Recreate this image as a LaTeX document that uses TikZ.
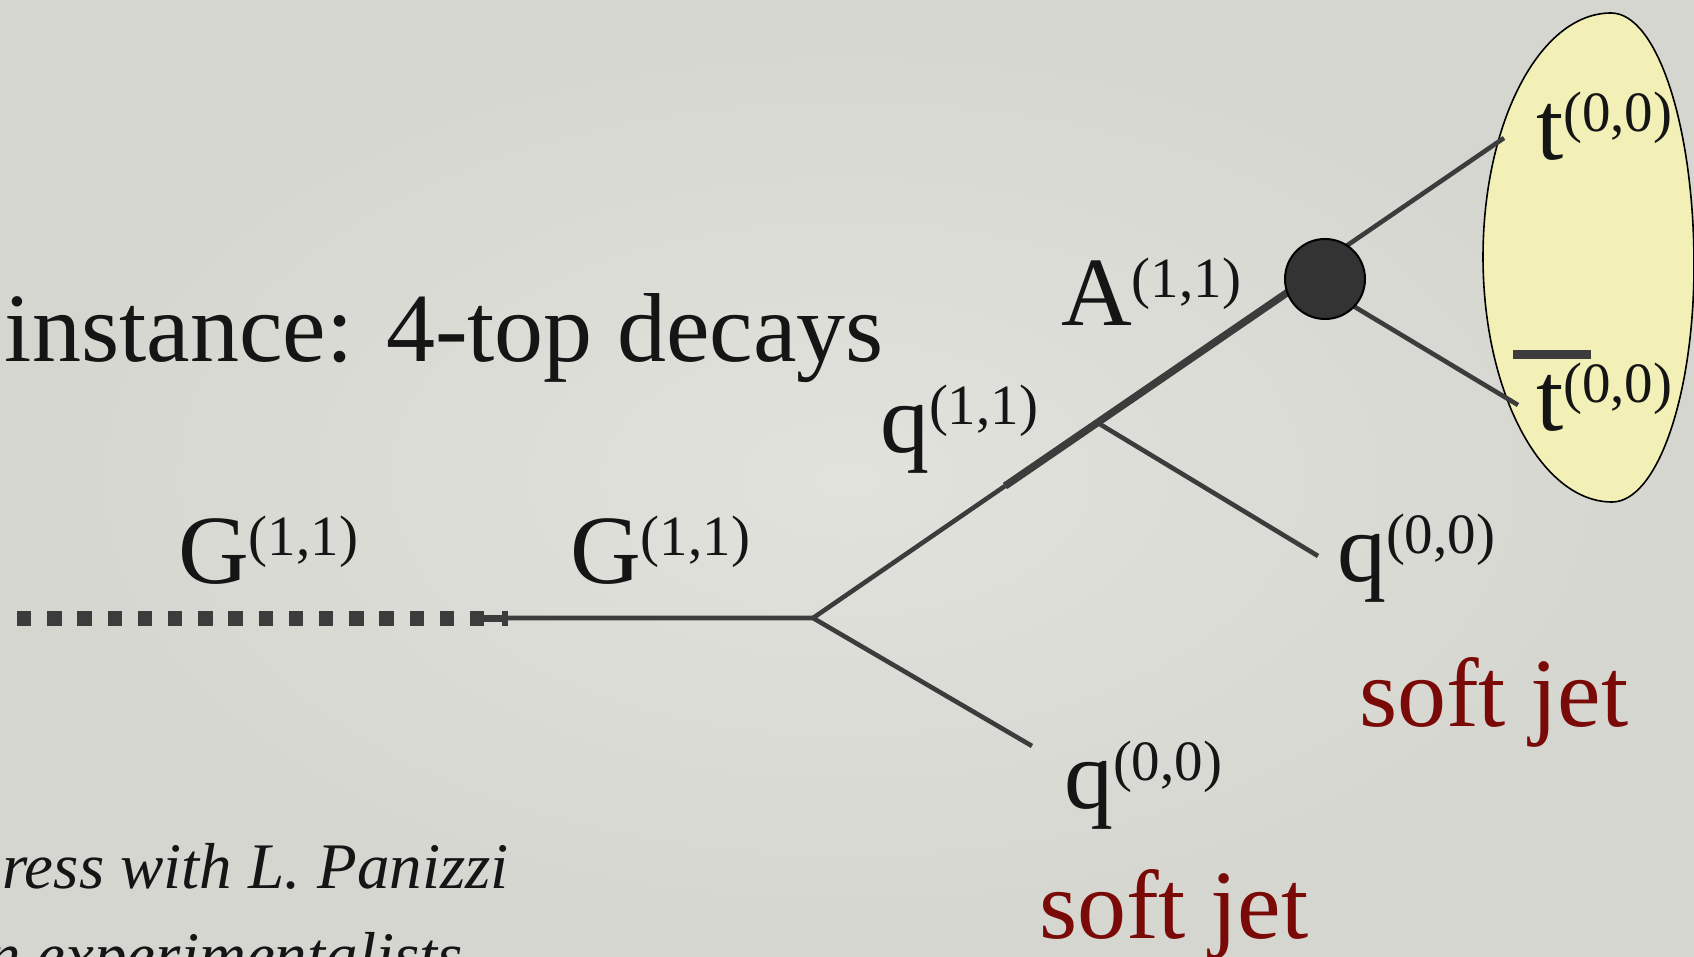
\documentclass[tikz,border=0pt]{standalone}
\usepackage{fontspec}
\setmainfont{Liberation Serif}
\definecolor{bgin}{HTML}{E2E2DD}
\definecolor{bgout}{HTML}{D6D6D0}
\definecolor{ln}{HTML}{3C3C3C}
\definecolor{jet}{HTML}{7A0A08}
\definecolor{ell}{HTML}{F2F0B6}
\definecolor{txt}{HTML}{151515}
\definecolor{blobc}{HTML}{333333}
\newcommand\supl[2]{#1\raisebox{28pt}{\fontsize{57}{57}\selectfont #2}}
\begin{document}
\begin{tikzpicture}[x=1pt,y=-1pt,
  lbl/.style={anchor=base west,inner sep=0pt,outer sep=0pt,text=txt,font=\fontsize{98}{98}\selectfont},
  jetlbl/.style={lbl,text=jet},
  note/.style={anchor=base west,inner sep=0pt,outer sep=0pt,text=txt,font=\fontsize{65}{65}\selectfont\itshape},
  prop/.style={draw=ln,line width=4.6pt},
  heavyline/.style={draw=ln,line width=7.5pt},
  dotline/.style={draw=ln,line width=15pt,dash pattern=on 14.3pt off 15.9pt},
  blobstyle/.style={circle,fill=blobc,draw=black,line width=2pt,minimum size=80pt,inner sep=0pt}
]
\useasboundingbox (0,0) rectangle (1694,957);
\shade[inner color=bgin,outer color=bgout] (0,0) rectangle (1694,957);

% yellow oval
\draw[fill=ell,draw=black,line width=1.6pt]
  (1483,257) .. controls (1483,122) and (1540,13) .. (1611,13)
  .. controls (1657,13) and (1694,126) .. (1694,265)
  .. controls (1694,396) and (1657,502) .. (1612,502)
  .. controls (1541,502) and (1483,392) .. cycle;

% coordinates
\coordinate (dstart) at (17,618);
\coordinate (dend) at (485,618);
\coordinate (hA) at (484,618);
\coordinate (hB) at (503,618);
\coordinate (v1) at (813,618);
\coordinate (v2) at (1098,423);
\coordinate (ts) at (1005,486);
\coordinate (bend) at (1310,277);
\coordinate (lowend) at (1032,746);
\coordinate (qend) at (1318,556);
\coordinate (tin) at (1320,264);
\coordinate (tend) at (1504,138);
\coordinate (tbin) at (1325,289);
\coordinate (tbend) at (1518,405);

% dotted propagator
\draw[dotline] (dstart) -- (dend);
\draw[ln,line width=7pt] (hA) -- (hB);
\fill[ln] (502,610.5) rectangle (507.5,625.5);

% solid propagators
\draw[prop] (hB) -- (v1) -- (lowend);
\draw[prop] (v1) -- (ts);
\draw[heavyline] (ts) -- (bend);
\draw[prop] (v2) -- (qend);
\draw[prop] (tin) -- (tend);
\draw[prop] (tbin) -- (tbend);

\node[blobstyle] (blob) at (1325,279) {};

% bar of anti-top
\fill[ln] (1513,350) rectangle (1591,359);

% labels
\node[lbl] (title) at (5,362) {instance: 4-top decays};
\node[lbl] (gl) at (178,583) {\supl{G}{(1,1)}};
\node[lbl] (gr) at (570,583) {\supl{G}{(1,1)}};
\node[lbl] (q11) at (880,452) {\supl{q}{(1,1)}};
\node[lbl] (a11) at (1061,326) {\supl{A}{(1,1)}};
\node[lbl] (t) at (1536,160) {\supl{t}{(0,0)}};
\node[lbl] (tb) at (1536,430) {\supl{t}{(0,0)}};
\node[lbl] (q00r) at (1337,581) {\supl{q}{(0,0)}};
\node[jetlbl] (sj1) at (1359,726) {soft jet};
\node[lbl] (q00l) at (1064,808) {\supl{q}{(0,0)}};
\node[jetlbl] (sj2) at (1039,938) {soft jet};
\node[note] (n1) at (2,888) {ress with L. Panizzi};
\node[note] (n2) at (-12,977) {n experimentalists};
\end{tikzpicture}
\end{document}
